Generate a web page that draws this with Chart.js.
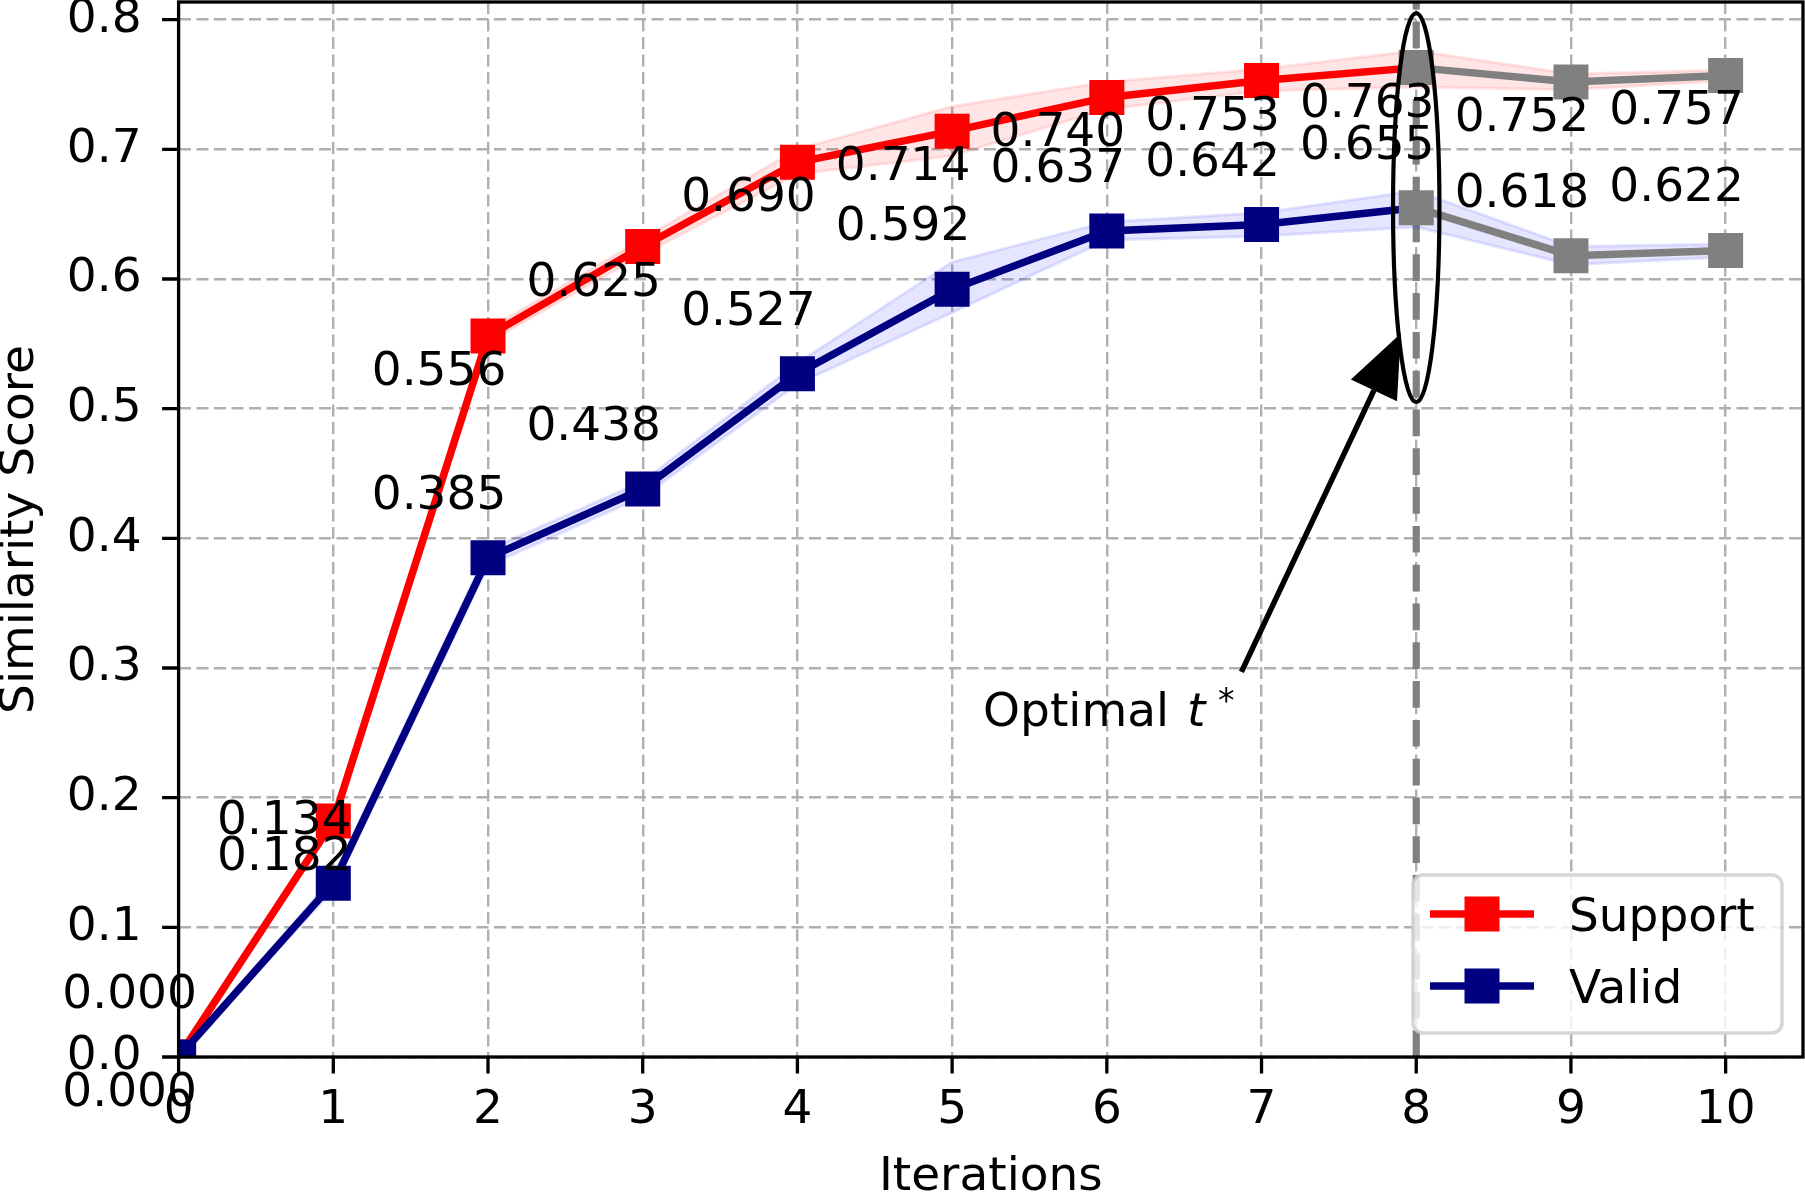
<!DOCTYPE html>
<html>
<head>
<meta charset="utf-8">
<script src="https://cdn.jsdelivr.net/npm/chart.js@4.4.1/dist/chart.umd.min.js"></script>
<style>
  html, body { margin: 0; padding: 0; background: #fff; }
  canvas { display: block; }
</style>
</head>
<body>
<canvas id="chart" width="1805" height="1204"></canvas>
<script>
// ===== Data =====
const iterations = [0, 1, 2, 3, 4, 5, 6, 7, 8, 9, 10];
const supportScores = [0.000, 0.182, 0.556, 0.625, 0.690, 0.714, 0.740, 0.753, 0.763, 0.752, 0.757];
const validScores = [0.000, 0.134, 0.385, 0.438, 0.527, 0.592, 0.637, 0.642, 0.655, 0.618, 0.622];

// shaded spread around each curve
const supportUpper = [0.000, 0.186, 0.561, 0.631, 0.700, 0.733, 0.752, 0.762, 0.776, 0.758, 0.761];
const supportLower = [0.000, 0.178, 0.551, 0.619, 0.681, 0.695, 0.731, 0.745, 0.748, 0.746, 0.753];
const validUpper = [0.000, 0.139, 0.391, 0.444, 0.535, 0.613, 0.644, 0.651, 0.668, 0.625, 0.627];
const validLower = [0.000, 0.129, 0.379, 0.432, 0.519, 0.574, 0.630, 0.633, 0.640, 0.611, 0.617];

const xTicks = [0, 1, 2, 3, 4, 5, 6, 7, 8, 9, 10];
const yTicks = [0.0, 0.1, 0.2, 0.3, 0.4, 0.5, 0.6, 0.7, 0.8];

// optimal iteration marker + annotation (data coords)
const optimalIter = 8;
const ellipseCenter = [8, 0.655];
const ellipseSize = [0.3, 0.3];
const arrowTip = [7.9, 0.558];
const arrowTail = [6.87, 0.297];
const annotAnchor = [5.2, 0.255];

const FONT = "'DejaVu Sans'";
const FS = 47;
const RED = "#ff0000";
const NAVY = "#000080";
const GRAY = "#808080";

const toXY = (vals) => vals.map((v, i) => ({ x: iterations[i], y: v }));

// ========== Overlay drawing ==========
const overlayPlugin = {
  id: "overlay",
  beforeDatasetsDraw(chart) {
    const { ctx, chartArea: a, scales } = chart;
    const xp = scales.x.getPixelForValue(optimalIter);
    ctx.save();
    ctx.beginPath();
    ctx.rect(a.left, a.top, a.width, a.height);
    ctx.clip();
    ctx.strokeStyle = GRAY;
    ctx.lineWidth = 7.2;
    ctx.setLineDash([26.7, 12.1]);
    ctx.beginPath();
    ctx.moveTo(xp, a.bottom);
    ctx.lineTo(xp, a.top);
    ctx.stroke();
    ctx.restore();
  },
  afterDraw(chart) {
    const { ctx, chartArea: a, scales } = chart;
    const X = (v) => scales.x.getPixelForValue(v);
    const Y = (v) => scales.y.getPixelForValue(v);

    ctx.save();
    // spines
    ctx.strokeStyle = "#000";
    ctx.lineWidth = 3.3;
    ctx.setLineDash([]);
    ctx.strokeRect(a.left, a.top, a.width, a.height);

    // tick marks
    ctx.beginPath();
    xTicks.forEach((v) => {
      ctx.moveTo(X(v), a.bottom);
      ctx.lineTo(X(v), a.bottom + 16.5);
    });
    yTicks.forEach((v) => {
      ctx.moveTo(a.left - 16.5, Y(v));
      ctx.lineTo(a.left, Y(v));
    });
    ctx.stroke();

    // ellipse round the optimum
    const cx = X(ellipseCenter[0]);
    const cy = Y(ellipseCenter[1]);
    const rx = X(ellipseCenter[0] + ellipseSize[0] / 2) - cx;
    const ry = cy - Y(ellipseCenter[1] + ellipseSize[1] / 2);
    ctx.lineWidth = 4.2;
    ctx.beginPath();
    ctx.ellipse(cx, cy, rx, ry, 0, 0, Math.PI * 2);
    ctx.stroke();

    // arrow
    const tx = X(arrowTip[0]), ty = Y(arrowTip[1]);
    const sx = X(arrowTail[0]), sy = Y(arrowTail[1]);
    const len = Math.hypot(tx - sx, ty - sy);
    const ux = (tx - sx) / len, uy = (ty - sy) / len;
    const headLen = 63, headHalf = 25.5;
    const bx = tx - ux * headLen, by = ty - uy * headLen;
    ctx.lineWidth = 5.5;
    ctx.lineCap = "butt";
    ctx.beginPath();
    ctx.moveTo(sx, sy);
    ctx.lineTo(bx, by);
    ctx.stroke();
    ctx.fillStyle = "#000";
    ctx.beginPath();
    ctx.moveTo(tx, ty);
    ctx.lineTo(bx - uy * headHalf, by + ux * headHalf);
    ctx.lineTo(bx + uy * headHalf, by - ux * headHalf);
    ctx.closePath();
    ctx.fill();

    // value labels
    ctx.font = `${FS}px ${FONT}`;
    ctx.textAlign = "center";
    ctx.textBaseline = "alphabetic";
    iterations.forEach((it, i) => {
      ctx.fillText(supportScores[i].toFixed(3), X(it) - 49, Y(supportScores[i]) + 49);
      ctx.fillText(validScores[i].toFixed(3), X(it) - 49, Y(validScores[i]) - 49);
    });

    // "Optimal t*"
    const ax = X(annotAnchor[0]), ay = Y(annotAnchor[1]);
    ctx.textAlign = "left";
    ctx.fillText("Optimal", ax, ay);
    ctx.font = `italic ${FS}px ${FONT}`;
    ctx.fillText("t", ax + 204, ay);
    ctx.font = `33px ${FONT}`;
    ctx.fillText("*", ax + 235, ay - 14);

    // legend
    const lw = 369, lh = 158;
    const lx = a.right - 21 - lw, ly = a.bottom - 24 - lh;
    ctx.beginPath();
    ctx.roundRect(lx, ly, lw, lh, 10);
    ctx.fillStyle = "rgba(255,255,255,0.8)";
    ctx.fill();
    ctx.strokeStyle = "rgba(204,204,204,0.8)";
    ctx.lineWidth = 3.5;
    ctx.stroke();

    const entries = chart.data.datasets.filter((d) => d.inLegend);
    entries.forEach((d, k) => {
      const rowY = ly + 39 + k * 72;
      ctx.strokeStyle = d.borderColor;
      ctx.lineWidth = 7.5;
      ctx.beginPath();
      ctx.moveTo(lx + 17, rowY);
      ctx.lineTo(lx + 121, rowY);
      ctx.stroke();
      ctx.fillStyle = d.borderColor;
      ctx.fillRect(lx + 69 - 17.5, rowY - 17.5, 35, 35);
      ctx.fillStyle = "#000";
      ctx.font = `${FS}px ${FONT}`;
      ctx.fillText(d.label, lx + 156, rowY + 17);
    });
    ctx.restore();
  },
};

const lineDataset = (label, values, color, order) => ({
  label: label,
  inLegend: true,
  data: toXY(values),
  borderColor: color,
  borderWidth: 7.5,
  segment: {
    borderColor: (c) => (c.p0DataIndex >= optimalIter ? GRAY : color),
  },
  pointStyle: "rect",
  pointRadius: 24.75,
  pointBorderWidth: 0,
  pointBackgroundColor: iterations.map((it) => (it >= optimalIter ? GRAY : color)),
  pointBorderColor: iterations.map((it) => (it >= optimalIter ? GRAY : color)),
  fill: false,
  clip: 0,
  order: order,
});

const bandDataset = (values, rgb, fill, order) => ({
  data: toXY(values),
  borderColor: `rgba(${rgb},0.1)`,
  backgroundColor: `rgba(${rgb},0.1)`,
  borderWidth: 3,
  pointRadius: 0,
  fill: fill,
  clip: 0,
  order: order,
});

const tickFont = { family: FONT, size: FS };

new Chart(document.getElementById("chart"), {
  type: "line",
  data: {
    datasets: [
      bandDataset(supportUpper, "255,0,0", false, 6),
      bandDataset(supportLower, "255,0,0", "-1", 5),
      bandDataset(validUpper, "0,0,255", false, 4),
      bandDataset(validLower, "0,0,255", "-1", 3),
      lineDataset("Support", supportScores, RED, 2),
      lineDataset("Valid", validScores, NAVY, 1),
    ],
  },
  options: {
    responsive: false,
    animation: false,
    events: [],
    layout: { autoPadding: false, padding: { left: 0, right: 2, top: 2, bottom: 0 } },
    plugins: {
      legend: { display: false },
      tooltip: { enabled: false },
    },
    scales: {
      x: {
        type: "linear",
        min: 0,
        max: 10.5,
        afterBuildTicks: (s) => {
          s.ticks = xTicks.map((v) => ({ value: v }));
        },
        afterFit: (s) => {
          s.height = 147;
          s.paddingLeft = 0;
          s.paddingRight = 0;
        },
        ticks: {
          color: "#000",
          font: tickFont,
          padding: 26,
          autoSkip: false,
          maxRotation: 0,
          callback: (v) => String(v),
        },
        grid: { color: "#b0b0b0", lineWidth: 2.4, drawTicks: false },
        border: { display: false, dash: [12, 5.5] },
        title: {
          display: true,
          text: "Iterations",
          color: "#000",
          font: { family: FONT, size: FS, lineHeight: 1 },
          padding: { top: 0, bottom: 2.8 },
        },
      },
      y: {
        type: "linear",
        min: 0,
        max: 0.8136,
        afterBuildTicks: (s) => {
          s.ticks = yTicks.map((v) => ({ value: v }));
        },
        afterFit: (s) => {
          s.width = 178.6;
          s.paddingTop = 0;
          s.paddingBottom = 0;
        },
        ticks: {
          color: "#000",
          font: tickFont,
          padding: 37,
          autoSkip: false,
          callback: (v) => v.toFixed(1),
        },
        grid: { color: "#b0b0b0", lineWidth: 2.4, drawTicks: false },
        border: { display: false, dash: [12, 5.5] },
        title: {
          display: true,
          text: "Similarity Score",
          color: "#000",
          font: { family: FONT, size: FS, lineHeight: 0.88 },
          padding: { top: 0, bottom: 0 },
        },
      },
    },
  },
  plugins: [overlayPlugin],
});
</script>
</body>
</html>
